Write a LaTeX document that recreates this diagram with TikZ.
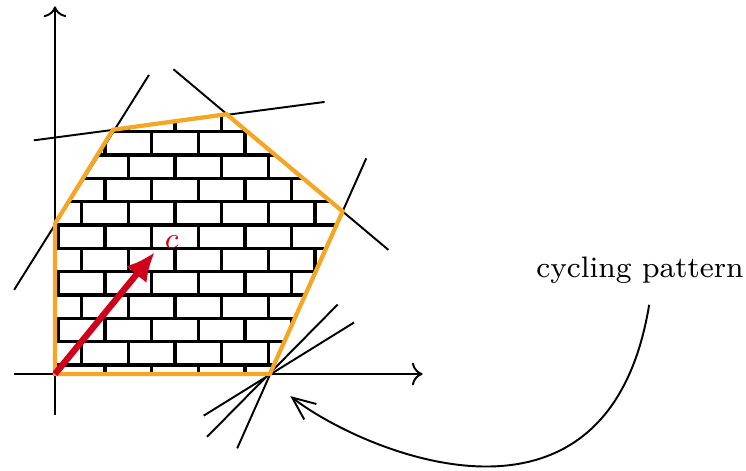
\documentclass[tikz,border=0pt]{standalone}
\usepackage{tikz}
\usetikzlibrary{patterns,arrows.meta}
\definecolor{polyorange}{RGB}{245,166,35}
\definecolor{costred}{RGB}{208,2,27}
\tikzset{smalltext/.style={font=\footnotesize, scale=1.29, transform shape}}

\begin{document}
\begin{tikzpicture}[scale=0.7, line width=0.47pt]
    \useasboundingbox (-0.673,-1.175) rectangle (8.458,4.578);

    % Axes
    \draw[->] (-0.5,0) -- (4.5,0);
    \draw[->] (0,-0.5) -- (0,4.5);

    % Constraint lines
    \draw (-0.5,1.03) -- (1.15,3.66);
    \draw (-0.26,2.86) -- (3.30,3.33);
    \draw (1.45,3.73) -- (4.08,1.52);
    \draw (3.81,2.64) -- (2.23,-0.91);
    % Degenerate vertex
    \draw (1.82,-0.51) -- (3.66,0.63);
    \draw (1.86,-0.77) -- (3.46,0.85);

    % Polytope
    \draw[polyorange, line width=1.03pt, pattern=bricks, pattern color=black]
        (0,0) -- (0,1.84) -- (0.71,2.99) -- (2.10,3.18) -- (3.52,1.99) -- (2.63,0) -- cycle;

    % Objective
    \coordinate (O) at (0,0);
    \draw[costred, line width=1.54pt, -{Latex[length=7pt,width=6.5pt]}] (O) -- (1.22,1.49)
        node[smalltext, anchor=south west, inner sep=0pt, xshift=2pt, yshift=0.2pt] (clabel) {$c$};

    % Label
    \node[smalltext] (cyc) at (7.16,1.27) {cycling pattern};
    \coordinate (ptip) at (2.88,-0.27);
    \draw[-{Straight Barb[length=5.6pt,width=4.8pt]}] ([xshift=3.2pt,yshift=-2.8pt]cyc.south) .. controls (6.76,-2.28) and (3.71,-0.92) .. (ptip);
\end{tikzpicture}
\end{document}
